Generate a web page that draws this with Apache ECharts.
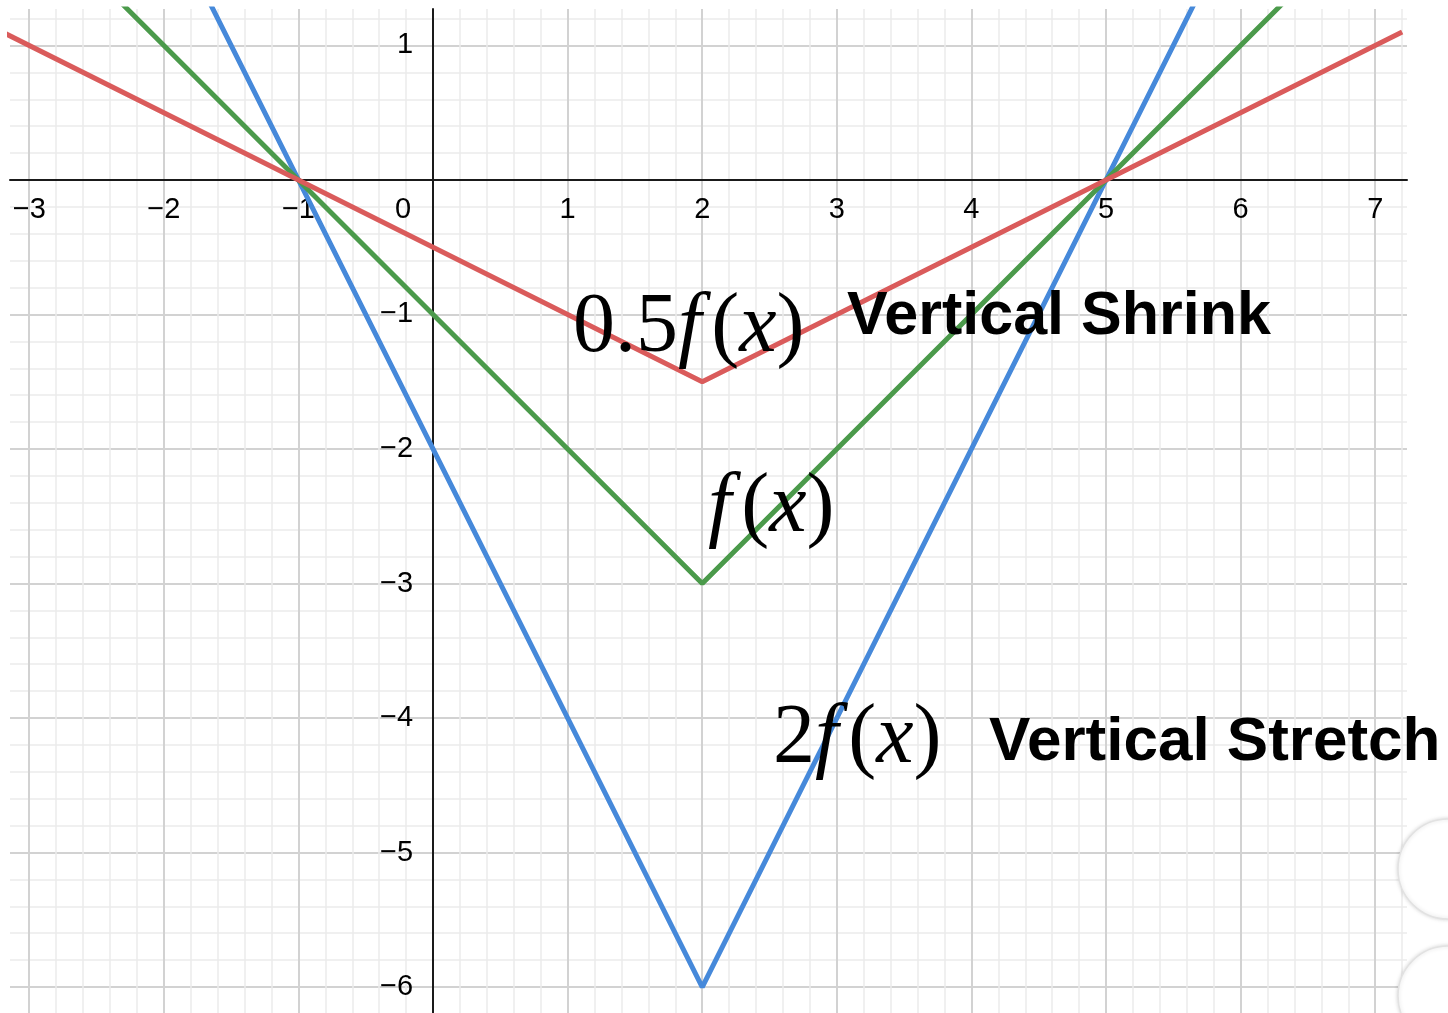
<!DOCTYPE html>
<html>
<head>
<meta charset="utf-8">
<script src="https://cdn.jsdelivr.net/npm/echarts@6/dist/echarts.min.js"></script>
<style>
  html, body { margin: 0; padding: 0; background: #fff; }
  #chart { width: 1448px; height: 1013px; }
</style>
</head>
<body>
<div id="chart"></div>
<script>
// break points of the three V shapes (x of the clipped ends, the two roots, the vertex)
const xPoints = [-3.2, -1, 2, 5, 7.2];
const shrinkY = [1.1, 0, -1.5, 0, 1.1];   // 0.5 f(x)
const baseY = [2.2, 0, -3, 0, 2.2];       // f(x)
const stretchY = [4.4, 0, -6, 0, 4.4];    // 2 f(x)

const xTicks = [-3, -2, -1, 0, 1, 2, 3, 4, 5, 6, 7];
const yTicks = [-6, -5, -4, -3, -2, -1, 0, 1];

const X_MIN = -3.143, X_MAX = 7.236;
const Y_MIN = -6.193, Y_MAX = 1.271;

const pairs = ys => xPoints.map((x, i) => [x, ys[i]]);
const minus = n => (n < 0 ? "\u2212" + -n : String(n));

const chart = echarts.init(document.getElementById("chart"));

const labelFont = {
  fontSize: 29,
  color: "#000",
  fontFamily: "Liberation Sans"
};
const gridMajor = { color: "#d2d2d2", width: 2 };
const gridMinor = { color: "#ebebeb", width: 1.5 };

// math labels: upright digits/brackets, italic f and x, a bit of room after f
const mathRich = {
  n: { fontFamily: "Liberation Serif", fontSize: 84, color: "#000" },
  i: { fontFamily: "Liberation Serif", fontSize: 84, fontStyle: "italic", color: "#000" },
  f: { fontFamily: "Liberation Serif", fontSize: 84, fontStyle: "italic", color: "#000", padding: [0, 10, 0, 0] }
};
const boldText = { fontFamily: "Liberation Sans", fontWeight: "bold", fontSize: 61, fill: "#000" };

chart.setOption({
  animation: false,
  grid: { left: 10, right: 41, top: 9, bottom: 0, containLabel: false, outerBoundsMode: "none" },
  xAxis: {
    type: "value",
    min: X_MIN,
    max: X_MAX,
    splitNumber: 10,
    minInterval: 1,
    maxInterval: 1,
    position: "bottom",
    axisLine: { onZero: false, lineStyle: { color: "#1a1a1a", width: 2 } },
    axisTick: { show: false },
    axisLabel: Object.assign({}, labelFont, {
      margin: 16,
      interval: 0,
      hideOverlap: false,
      formatter: v => {
        const n = Math.round(v);
        if (Math.abs(v - n) > 1e-6 || xTicks.indexOf(n) < 0) return "";
        if (n === 0) return "{z|0}";
        return minus(n);
      },
      rich: { z: Object.assign({}, labelFont, { padding: [0, 60, 0, 0] }) }
    }),
    splitLine: { show: true, showMinLine: false, showMaxLine: false, lineStyle: gridMajor },
    minorTick: { show: false, splitNumber: 5 },
    minorSplitLine: { show: true, lineStyle: gridMinor }
  },
  yAxis: {
    type: "value",
    min: Y_MIN,
    max: Y_MAX,
    splitNumber: 7,
    minInterval: 1,
    maxInterval: 1,
    position: "left",
    axisLine: { onZero: false, lineStyle: { color: "#1a1a1a", width: 2 } },
    axisTick: { show: false },
    axisLabel: Object.assign({}, labelFont, {
      margin: 20,
      interval: 0,
      hideOverlap: false,
      padding: [20, 0, 0, 0],
      formatter: v => {
        const n = Math.round(v);
        if (Math.abs(v - n) > 1e-6 || yTicks.indexOf(n) < 0 || n === 0) return "";
        return minus(n);
      }
    }),
    splitLine: { show: true, showMinLine: false, showMaxLine: false, lineStyle: gridMajor },
    minorTick: { show: false, splitNumber: 5 },
    minorSplitLine: { show: true, lineStyle: gridMinor }
  },
  series: [
    {
      name: "2f(x)",
      type: "line",
      data: pairs(stretchY),
      symbol: "none",
      clip: true,
      lineStyle: { color: "#4689da", width: 5 },
      z: 3
    },
    {
      name: "f(x)",
      type: "line",
      data: pairs(baseY),
      symbol: "none",
      clip: true,
      lineStyle: { color: "#4b9a4b", width: 5 },
      z: 4
    },
    {
      name: "0.5f(x)",
      type: "line",
      data: pairs(shrinkY),
      symbol: "none",
      clip: true,
      lineStyle: { color: "#da5b5b", width: 5 },
      z: 5
    }
  ],
  graphic: [
    {
      type: "text", x: 573, y: 329, z: 10,
      style: { text: "{n|0.5}{f|f}{n|(}{i|x}{n|)}", rich: mathRich, verticalAlign: "middle" }
    },
    {
      type: "text", x: 847, y: 317, z: 10,
      style: Object.assign({ text: "Vertical Shrink", verticalAlign: "middle" }, boldText)
    },
    {
      type: "text", x: 708, y: 509, z: 10,
      style: { text: "{f|f}{n|(}{i|x}{n|)}", rich: mathRich, verticalAlign: "middle" }
    },
    {
      type: "text", x: 773, y: 740, z: 10,
      style: { text: "{n|2}{f|f}{n|(}{i|x}{n|)}", rich: mathRich, verticalAlign: "middle" }
    },
    {
      type: "text", x: 989, y: 743, z: 10,
      style: Object.assign({ text: "Vertical Stretch", verticalAlign: "middle" }, boldText, { fontSize: 62 })
    },
    // cut-off round buttons at the right edge
    {
      type: "circle", z: 9,
      shape: { cx: 1448, cy: 869, r: 50 },
      style: { fill: "#fff", stroke: "#e2e2e2", lineWidth: 1.5, shadowBlur: 4, shadowColor: "rgba(0,0,0,0.15)" }
    },
    {
      type: "circle", z: 9,
      shape: { cx: 1448, cy: 996, r: 50 },
      style: { fill: "#fff", stroke: "#e2e2e2", lineWidth: 1.5, shadowBlur: 4, shadowColor: "rgba(0,0,0,0.15)" }
    }
  ]
});

// move both axes (line + labels) onto the origin, measured through the chart's own scales
const origin = chart.convertToPixel({ gridIndex: 0 }, [0, 0]);
const corner = chart.convertToPixel({ gridIndex: 0 }, [X_MIN, Y_MIN]);
chart.setOption({
  xAxis: { offset: origin[1] - corner[1] },
  yAxis: { offset: corner[0] - origin[0] }
});
</script>
</body>
</html>
